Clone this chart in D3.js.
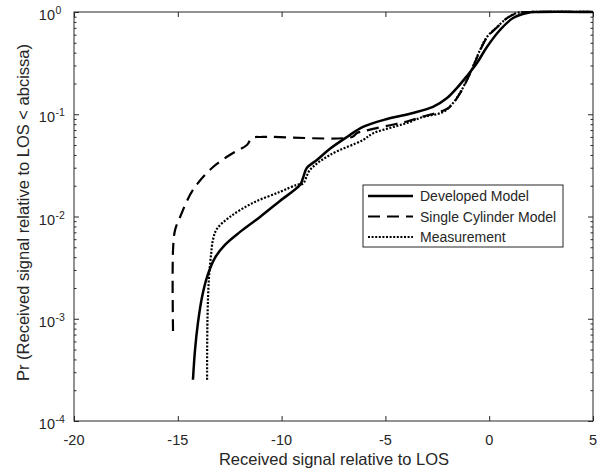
<!DOCTYPE html>
<html><head><meta charset="utf-8">
<script src="https://cdn.jsdelivr.net/npm/d3@7"></script>
<style>body{margin:0;background:#fff}svg{display:block}text{font-family:"Liberation Sans",Arial,sans-serif;fill:#262626}</style>
</head><body>
<svg id="c" width="611" height="473"></svg>
<script>
const seriesNames = ["Developed Model", "Single Cylinder Model", "Measurement"];
const developedX = [-14.27,-14.17,-14.03,-13.83,-13.59,-13.21,-12.73,-12.0,-11.04,-10.08,-9.11,-8.97,-8.78,-8.30,-7.67,-6.85,-6.08,-4.92,-3.67,-2.71,-2.03,-1.55,-1.07,-0.59,-0.11,0.52,1.15,1.82,2.30,5];
const developedY = [2.53e-4,4.97e-4,9.1e-4,1.64e-3,2.57e-3,3.94e-3,5.28e-3,7.07e-3,9.91e-3,0.0142,0.0204,0.0238,0.0299,0.0357,0.046,0.06,0.0752,0.0899,0.103,0.118,0.144,0.181,0.237,0.317,0.455,0.667,0.873,0.978,1,1];
const cylinderX = [-15.23,-15.23,-15.13,-14.89,-14.27,-13.30,-12.34,-11.67,-11.43,-10.9,-6.6,-6.37,-6.08,-5.6,-4.78,-3.96,-3.19,-2.23,-1.89,-1.41,-0.92,-0.44,-0.11,0.38,0.86,1.34,1.97,5];
const cylinderY = [7.6e-4,4.7e-3,7.4e-3,9.9e-3,0.0182,0.0305,0.0418,0.0501,0.0586,0.06,0.06,0.0656,0.068,0.072,0.078,0.085,0.095,0.108,0.118,0.16,0.25,0.42,0.56,0.71,0.87,0.975,1,1];
const measX = [-13.59,-13.57,-13.5,-13.4,-13.3,-13.11,-12.49,-11.38,-10.08,-9.26,-8.97,-8.63,-7.67,-6.08,-5.6,-4.78,-3.96,-3.19,-2.23,-1.74,-1.41,-0.92,-0.44,-0.11,0.38,0.86,1.34,1.97,5];
const measY = [2.53e-4,1e-3,2.5e-3,4.2e-3,6.0e-3,7.6e-3,9.9e-3,0.0136,0.0174,0.0204,0.021,0.0286,0.040,0.056,0.065,0.0735,0.0822,0.094,0.105,0.129,0.161,0.253,0.425,0.57,0.713,0.873,0.978,1,1];
const xTicks = [-20,-15,-10,-5,0,5];
const yExps = [-4,-3,-2,-1,0];
const xLabel = "Received signal relative to LOS";
const yLabel = "Pr (Received signal relative to LOS < abcissa)";

const svg = d3.select("#c");
const L=74,R=593,T=12,B=421;
const x = d3.scaleLinear().domain([-20,5]).range([L,R]);
const y = d3.scaleLog().domain([1e-4,1]).range([B,T]);
const axCol = "#262626";

const minor = [];
yExps.slice(0,-1).forEach(e=>{for(let k=2;k<=9;k++) minor.push(k*Math.pow(10,e));});
const majorY = yExps.map(e=>Math.pow(10,e));

const g = svg.append("g");
g.append("rect").attr("x",L).attr("y",T).attr("width",R-L).attr("height",B-T).attr("fill","none").attr("stroke",axCol).attr("stroke-width",1);

function styleAxis(sel){sel.select(".domain").remove();sel.selectAll("line").attr("stroke",axCol);sel.selectAll("text").remove();}
g.append("g").attr("transform",`translate(0,${B})`).call(d3.axisBottom(x).tickValues(xTicks).tickSize(-5)).call(styleAxis);
g.append("g").attr("transform",`translate(0,${T})`).call(d3.axisTop(x).tickValues(xTicks).tickSize(-5)).call(styleAxis);
g.append("g").attr("transform",`translate(${L},0)`).call(d3.axisLeft(y).tickValues(majorY).tickSize(-5)).call(styleAxis);
g.append("g").attr("transform",`translate(${R},0)`).call(d3.axisRight(y).tickValues(majorY).tickSize(-5)).call(styleAxis);
g.append("g").attr("transform",`translate(${L},0)`).call(d3.axisLeft(y).tickValues(minor).tickSize(-2.5)).call(styleAxis);
g.append("g").attr("transform",`translate(${R},0)`).call(d3.axisRight(y).tickValues(minor).tickSize(-2.5)).call(styleAxis);

g.selectAll(".xl").data(xTicks).enter().append("text")
  .attr("x",d=>x(d)).attr("y",B+24).attr("text-anchor","middle").attr("font-size",14.5).text(d=>d);
yExps.forEach(e=>{
  const yy = y(Math.pow(10,e));
  g.append("text").attr("x",55).attr("y",yy+8).attr("text-anchor","end").attr("font-size",14.5).text("10");
  g.append("text").attr("x",55.5).attr("y",yy+2).attr("font-size",10.5).text(e);
});
g.append("text").attr("x",(L+R)/2+0.5).attr("y",465).attr("text-anchor","middle").attr("font-size",16.5).text(xLabel);
g.append("text").attr("transform",`translate(29,${(T+B)/2-4}) rotate(-90)`).attr("text-anchor","middle").attr("font-size",16.5).text(yLabel);

const zip=(a,b)=>a.map((v,i)=>[v,b[i]]);
const styles = [
  {w:2.5,dash:null},
  {w:2.2,dash:"12,7"},
  {w:2.2,dash:"2,1.6"}
];
const data=[zip(developedX,developedY),zip(cylinderX,cylinderY),zip(measX,measY)];
const lineC = d3.line().x(d=>x(d[0])).y(d=>y(d[1])).curve(d3.curveCatmullRom.alpha(0.5));
data.forEach((d,i)=>{
  g.append("path").attr("d",lineC(d)).attr("fill","none").attr("stroke","#000")
   .attr("stroke-width",styles[i].w).attr("stroke-dasharray",styles[i].dash);
});

const lg = g.append("g");
lg.append("rect").attr("x",363).attr("y",185).attr("width",200).attr("height",62).attr("fill","#fff").attr("stroke",axCol).attr("stroke-width",1);
seriesNames.forEach((n,i)=>{
  const yy = 196+i*20.5;
  lg.append("line").attr("x1",368).attr("x2",413).attr("y1",yy).attr("y2",yy).attr("stroke","#000")
    .attr("stroke-width",styles[i].w).attr("stroke-dasharray",styles[i].dash);
  lg.append("text").attr("x",420).attr("y",yy+5).attr("font-size",14).text(n);
});
</script>
</body></html>
